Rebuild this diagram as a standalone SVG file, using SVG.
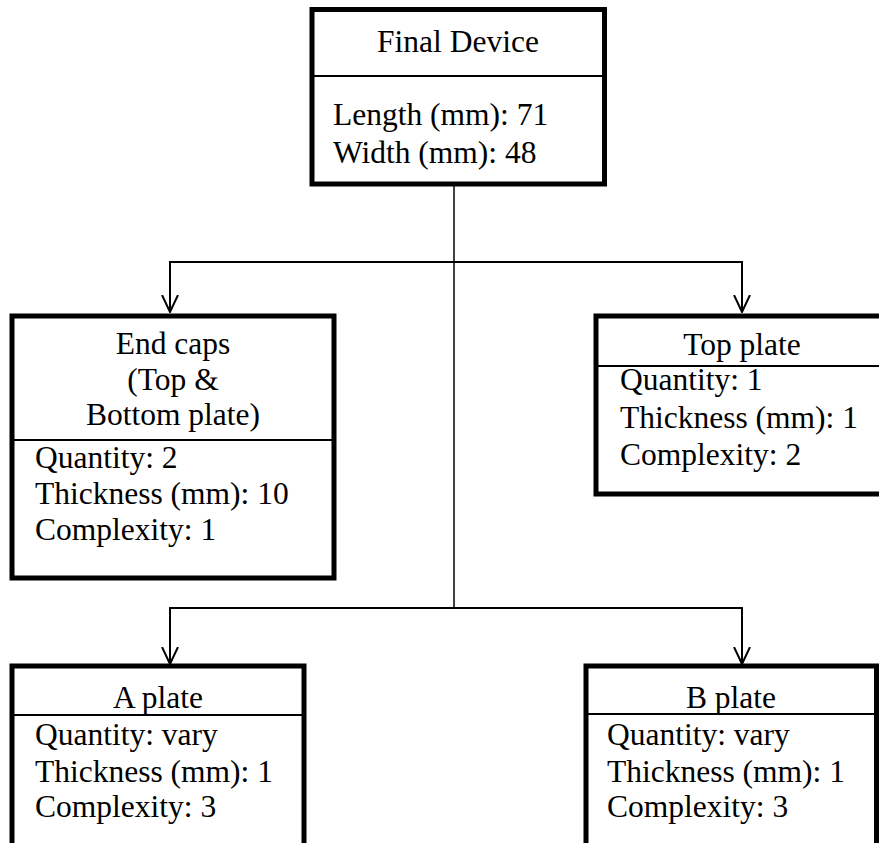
<svg xmlns="http://www.w3.org/2000/svg" width="879" height="843" viewBox="0 0 879 843">
<style>
.box{fill:#fff;stroke:#000;stroke-width:5}
.div{stroke:#000;stroke-width:2}
.t{font-family:"Liberation Serif","Times New Roman",serif;font-size:31.5px;fill:#000}
.c{text-anchor:middle}
.conn{fill:none;stroke:#000;stroke-width:2}
</style>
<defs>
<marker id="arr" viewBox="0 0 18 18" refX="17" refY="9" markerWidth="18" markerHeight="18" markerUnits="userSpaceOnUse" orient="auto">
<path d="M0,1 L17,9 L0,17" fill="none" stroke="#000" stroke-width="2"/>
</marker>
</defs>
<rect width="879" height="843" fill="#fff"/>
<g id="connectors">
<line x1="454" y1="186" x2="454" y2="608" stroke="#000" stroke-width="1.5"/>
<path class="conn" d="M454,262 H170 V312" marker-end="url(#arr)"/>
<path class="conn" d="M454,262 H742 V312" marker-end="url(#arr)"/>
<path class="conn" d="M454,608 H170 V664" marker-end="url(#arr)"/>
<path class="conn" d="M454,608 H742 V664" marker-end="url(#arr)"/>
</g>
<g id="final-device">
<rect class="box" x="312" y="9.5" width="292.5" height="174.5"/>
<line class="div" x1="312" y1="76" x2="604.5" y2="76"/>
<text class="t c" x="458" y="52">Final Device</text>
<text class="t" x="333" y="125">Length (mm): 71</text>
<text class="t" x="333" y="163">Width (mm): 48</text>
</g>
<g id="end-caps">
<rect class="box" x="12" y="316" width="322" height="262"/>
<line class="div" x1="12" y1="440" x2="334" y2="440"/>
<text class="t c" x="173" y="354">End caps</text>
<text class="t c" x="173" y="390">(Top &amp;</text>
<text class="t c" x="173" y="425">Bottom plate)</text>
<text class="t" x="35" y="468">Quantity: 2</text>
<text class="t" x="35" y="504">Thickness (mm): 10</text>
<text class="t" x="35" y="540">Complexity: 1</text>
</g>
<g id="top-plate">
<rect class="box" x="596" y="316" width="292" height="178"/>
<line class="div" x1="596" y1="366" x2="888" y2="366"/>
<text class="t c" x="742" y="355">Top plate</text>
<text class="t" x="620" y="390">Quantity: 1</text>
<text class="t" x="620" y="428">Thickness (mm): 1</text>
<text class="t" x="620" y="465">Complexity: 2</text>
</g>
<g id="a-plate">
<rect class="box" x="12" y="666" width="292" height="200"/>
<line class="div" x1="12" y1="715" x2="304" y2="715"/>
<text class="t c" x="158" y="708">A plate</text>
<text class="t" x="35" y="745">Quantity: vary</text>
<text class="t" x="35" y="782">Thickness (mm): 1</text>
<text class="t" x="35" y="817">Complexity: 3</text>
</g>
<g id="b-plate">
<rect class="box" x="586" y="666" width="290.5" height="200"/>
<line class="div" x1="586" y1="714" x2="876.5" y2="714"/>
<text class="t c" x="731" y="708">B plate</text>
<text class="t" x="607" y="745">Quantity: vary</text>
<text class="t" x="607" y="782">Thickness (mm): 1</text>
<text class="t" x="607" y="817">Complexity: 3</text>
</g>
</svg>
